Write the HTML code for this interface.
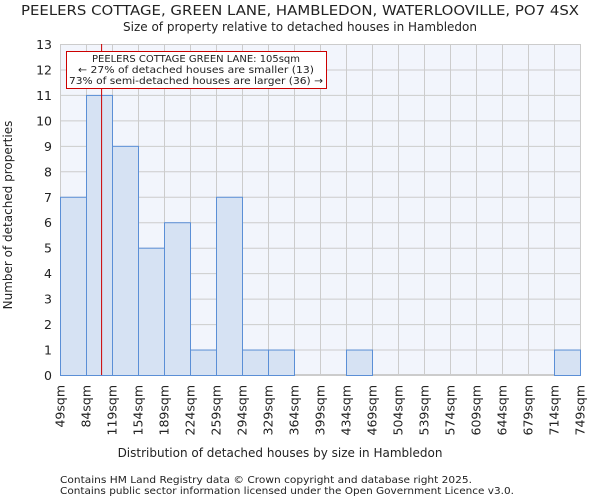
<!DOCTYPE html>
<html><head><meta charset="utf-8"><style>
body{margin:0;background:#fff;font-family:"DejaVu Sans","Liberation Sans",sans-serif;}
svg text{font-family:"DejaVu Sans","Liberation Sans",sans-serif;fill:#222;}
</style></head><body>
<svg id="chart" width="600" height="500" viewBox="0 0 600 500">
<text x="300" y="15" font-size="13" text-anchor="middle" textLength="558" lengthAdjust="spacingAndGlyphs">PEELERS COTTAGE, GREEN LANE, HAMBLEDON, WATERLOOVILLE, PO7 4SX</text>
<text x="300" y="31" font-size="12" text-anchor="middle">Size of property relative to detached houses in Hambledon</text>
<rect x="60.5" y="44.5" width="520" height="330" fill="#f2f5fc" stroke="#ccc"/>
<g id="grid"></g><g id="bars"></g><g id="yticks"></g><g id="xticks"></g>
<text x="280" y="457" font-size="12" text-anchor="middle">Distribution of detached houses by size in Hambledon</text>
<text transform="translate(12,215) rotate(-90)" font-size="12" text-anchor="middle">Number of detached properties</text>
<line id="marker" y1="44" y2="375" stroke="#cc0000" stroke-width="1"/>
<g>
<rect x="66.5" y="51.5" width="260" height="37" fill="#fff" stroke="#cc0000"/>
<text x="196" y="62" font-size="10" text-anchor="middle" textLength="208" lengthAdjust="spacingAndGlyphs">PEELERS COTTAGE GREEN LANE: 105sqm</text>
<text x="196" y="73" font-size="10" text-anchor="middle" textLength="236" lengthAdjust="spacingAndGlyphs">← 27% of detached houses are smaller (13)</text>
<text x="196" y="84" font-size="10" text-anchor="middle" textLength="254" lengthAdjust="spacingAndGlyphs">73% of semi-detached houses are larger (36) →</text>
</g>
<text x="60" y="483" font-size="10" fill="#444" textLength="412" lengthAdjust="spacingAndGlyphs">Contains HM Land Registry data © Crown copyright and database right 2025.</text>
<text x="60" y="494" font-size="10" fill="#444" textLength="454" lengthAdjust="spacingAndGlyphs">Contains public sector information licensed under the Open Government Licence v3.0.</text>
</svg>
<script>
const binEdges=[49,84,119,154,189,224,259,294,329,364,399,434,469,504,539,574,609,644,679,714,749];
const counts=[7,11,9,5,6,1,7,1,1,0,0,1,0,0,0,0,0,0,0,1];
const yTicks=[0,1,2,3,4,5,6,7,8,9,10,11,12,13];
const propertySize=105;
const NS="http://www.w3.org/2000/svg";
const x=v=>60+(v-49)/(749-49)*520;
const y=v=>375-v/13*331;
function mk(t,a,p){const e=document.createElementNS(NS,t);for(const k in a)e.setAttribute(k,a[k]);p.appendChild(e);return e;}
const grid=document.getElementById('grid'),bars=document.getElementById('bars'),yt=document.getElementById('yticks'),xt=document.getElementById('xticks');
yTicks.forEach(v=>{
 const l=mk('line',{x1:60,x2:580,y1:y(v)+.5,y2:y(v)+.5,stroke:'#ccc'},grid);
 
 
 const t=mk('text',{x:52,y:y(v)+5,'font-size':12.5,'text-anchor':'end'},yt);
 t.textContent=v;
 
 
});
binEdges.forEach(v=>{
 const l=mk('line',{x1:Math.round(x(v))+.5,x2:Math.round(x(v))+.5,y1:44,y2:375,stroke:'#ccc'},grid);
 
 
 const t=mk('text',{transform:`translate(${x(v)+4.5},${385}) rotate(-90)`,'font-size':12.5,'text-anchor':'end'},xt);
 t.textContent=v+'sqm';
 
 
});
counts.forEach((c,i)=>{
 if(!c)return;
 const x0=Math.round(x(binEdges[i])),x1=Math.round(x(binEdges[i+1]));
 const r=mk('rect',{x:x0+.5,y:y(c)+.5,width:x1-x0,height:375-y(c),fill:'#d6e2f3',stroke:'#5b8fd6'},bars);
 
 
});
const m=document.getElementById('marker');m.setAttribute('x1',x(propertySize));m.setAttribute('x2',x(propertySize));
</script>
</body></html>
